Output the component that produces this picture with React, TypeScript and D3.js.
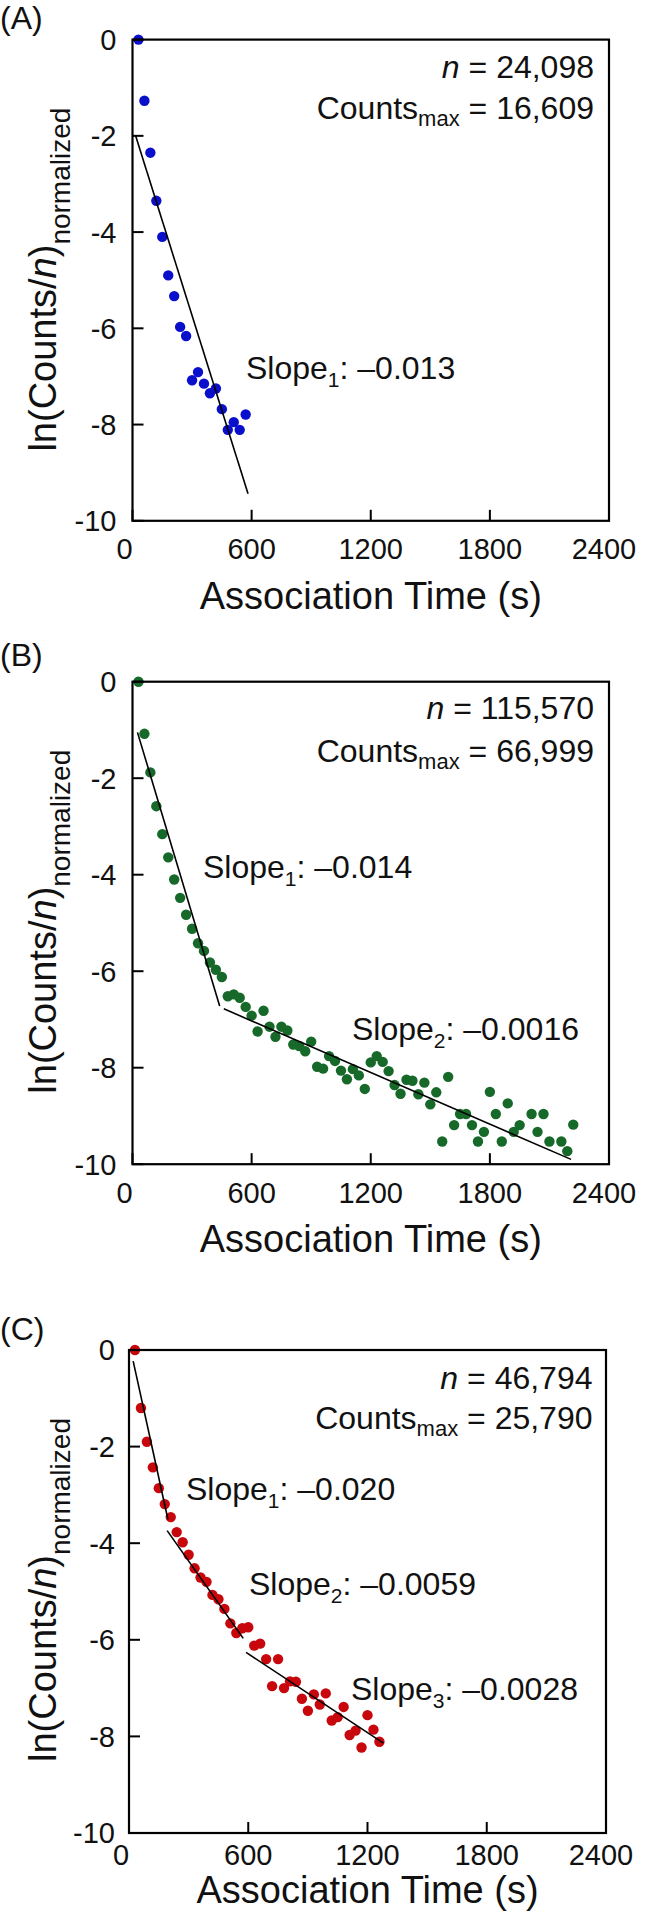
import React from 'react';
import * as d3 from 'd3';

// ---------- DATA ----------
const timeA = [30, 60, 90, 120, 150, 180, 210, 240, 270, 300, 330, 360, 390, 420, 450, 480, 510, 540, 570];
const lnA = [0, -1.27, -2.35, -3.35, -4.1, -4.9, -5.33, -5.97, -6.16, -7.08, -6.91, -7.15, -7.35, -7.25, -7.68, -8.11, -7.95, -8.11, -7.79];

const timeB = [30, 60, 90, 120, 150, 180, 210, 240, 270, 300, 330, 360, 390, 420, 450, 480, 510, 540, 570, 600,
  630, 660, 690, 720, 750, 780, 810, 840, 870, 900, 930, 960, 990, 1020, 1050, 1080, 1110, 1140, 1170, 1200,
  1230, 1260, 1290, 1320, 1350, 1380, 1410, 1440, 1470, 1500, 1530, 1560, 1590, 1620, 1650, 1680, 1710, 1740,
  1770, 1800, 1830, 1860, 1890, 1920, 1950, 2010, 2040, 2070, 2100, 2160, 2190, 2220];
const lnB = [0, -1.08, -1.88, -2.58, -3.16, -3.64, -4.1, -4.48, -4.83, -5.12, -5.42, -5.58, -5.82, -5.97, -6.12, -6.52, -6.48, -6.55, -6.74, -6.92,
  -7.25, -6.82, -7.15, -7.36, -7.15, -7.23, -7.52, -7.55, -7.66, -7.46, -7.98, -8.02, -7.76, -7.86, -8.06, -8.24, -8.03, -8.16, -8.44, -7.89,
  -7.76, -7.88, -8.07, -8.36, -8.54, -8.25, -8.27, -8.55, -8.31, -8.76, -8.51, -9.53, -8.19, -9.19, -8.96, -8.96, -9.19, -9.53,
  -9.33, -8.5, -8.96, -9.53, -8.74, -9.33, -9.19, -8.96, -9.33, -8.96, -9.53, -9.53, -9.73, -9.18];

const timeC = [30, 60, 90, 120, 150, 180, 210, 240, 270, 300, 330, 360, 390, 420, 450, 480, 510, 540, 570, 600,
  630, 660, 690, 720, 750, 780, 810, 840, 870, 900, 930, 960, 990, 1020, 1050, 1080, 1110, 1140, 1170, 1200, 1230, 1260];
const lnC = [0, -1.2, -1.9, -2.43, -2.86, -3.19, -3.46, -3.77, -3.98, -4.24, -4.52, -4.71, -4.8, -5.07, -5.16, -5.36, -5.66, -5.86, -5.76, -5.74,
  -6.12, -6.08, -6.4, -6.96, -6.4, -7.0, -6.86, -6.87, -7.22, -7.47, -7.13, -7.34, -7.11, -7.67, -7.6, -7.39, -7.97, -7.88, -8.23, -7.56, -7.86, -8.11];

// fitted segments: [t0, y0, t1, y1]
const fitA = [[15, -1.99, 582, -9.44]];
const fitB = [[25, -1.05, 439, -6.72], [460, -6.78, 2209, -9.9]];
const fitC = [[21, -0.23, 196, -3.51], [192, -3.74, 575, -5.97], [589, -6.26, 1280, -8.14]];

const xTicks = [0, 600, 1200, 1800, 2400];
const yTicks = [0, -2, -4, -6, -8, -10];

const panelLetters = ['(A)', '(B)', '(C)'];
const nValues = ['24,098', '115,570', '46,794'];
const countsMaxValues = ['16,609', '66,999', '25,790'];
const slopeSubs = [['1'], ['1', '2'], ['1', '2', '3']];
const slopeValues = [['–0.013'], ['–0.014', '–0.0016'], ['–0.020', '–0.0059', '–0.0028']];

// ---------- LAYOUT ----------
const FONT = '"Liberation Sans", Arial, Helvetica, sans-serif';
const colors = ['#0a0fcc', '#17692a', '#c8070c'];
const panels = [
  { time: timeA, ln: lnA, fit: fitA, left: 132.5, top: 39.6, w: 476.5, h: 481.2, letterY: 29, titleDy: 88, tickDy: 38.5, tickLabelGap: 16,
    slopePos: [[113.5, 339.4]], nY: 38.5, cY: 79.5, right: 461.5 },
  { time: timeB, ln: lnB, fit: fitB, left: 132.5, top: 681.7, w: 476.5, h: 482.5, letterY: 666, titleDy: 88, tickDy: 38.5, tickLabelGap: 16,
    slopePos: [[70.5, 195.8], [219.5, 358.3]], nY: 37.5, cY: 80, right: 461.5 },
  { time: timeC, ln: lnC, fit: fitC, left: 129, top: 1350, w: 477, h: 483, letterY: 1340, titleDy: 70, tickDy: 32, tickLabelGap: 14,
    slopePos: [[57, 149.6], [120, 245], [222, 350]], nY: 39, cY: 79, right: 463.5 },
];

function Panel({ p, i }: { p: any; i: number }) {
  const x = d3.scaleLinear().domain([0, 2400]).range([p.left, p.left + p.w]);
  const y = d3.scaleLinear().domain([0, -10]).range([p.top, p.top + p.h]);
  const bottom = p.top + p.h;
  const tickLen = 11;
  const line = d3.line<[number, number]>().x(d => x(d[0])).y(d => y(d[1]));
  return (
    <g fontFamily={FONT} fill="#111">
      <text x={0} y={p.letterY} fontSize={32}>{panelLetters[i]}</text>
      {/* points */}
      {p.time.map((t: number, k: number) => (
        <circle key={k} cx={x(t)} cy={y(p.ln[k])} r={5.2} fill={colors[i]} />
      ))}
      {/* fits */}
      {p.fit.map((s: number[], k: number) => (
        <path key={k} d={line([[s[0], s[1]], [s[2], s[3]]]) || ''} stroke="#000" strokeWidth={1.6} fill="none" />
      ))}
      {/* frame */}
      <rect x={p.left} y={p.top} width={p.w} height={p.h} fill="none" stroke="#000" strokeWidth={2.2} />
      {/* y ticks */}
      {yTicks.map(v => (
        <g key={v}>
          <line x1={p.left} x2={p.left + tickLen} y1={y(v)} y2={y(v)} stroke="#000" strokeWidth={2} />
          <text x={p.left - p.tickLabelGap} y={y(v)} dy="0.36em" textAnchor="end" fontSize={29}>{v === 0 ? '0' : '-' + Math.abs(v)}</text>
        </g>
      ))}
      {/* x ticks */}
      {xTicks.map((v, k) => (
        <g key={v}>
          <line x1={x(v)} x2={x(v)} y1={bottom} y2={bottom - tickLen} stroke="#000" strokeWidth={2} />
          <text x={x(v) + (k === 0 ? -8 : k === xTicks.length - 1 ? -5 : 0)} y={bottom + p.tickDy} textAnchor="middle" fontSize={29}>{v}</text>
        </g>
      ))}
      {/* axis titles */}
      <text x={p.left + p.w / 2} y={bottom + p.titleDy} textAnchor="middle" fontSize={38}>Association Time (s)</text>
      <text transform={`translate(56,${p.top + 412}) rotate(-90)`} textAnchor="start" fontSize={38}>
        ln(Counts/<tspan fontStyle="italic">n</tspan>)<tspan fontSize={28} dy={14}>normalized</tspan>
      </text>
      {/* n and counts */}
      <text x={p.left + p.right} y={p.top + p.nY} textAnchor="end" fontSize={32}>
        <tspan fontStyle="italic">n</tspan> = {nValues[i]}
      </text>
      <text x={p.left + p.right} y={p.top + p.cY} textAnchor="end" fontSize={32}>
        Counts<tspan fontSize={22} dy={7}>max</tspan><tspan dy={-7}> = {countsMaxValues[i]}</tspan>
      </text>
      {/* slopes */}
      {slopeSubs[i].map((s, k) => (
        <text key={k} x={p.left + p.slopePos[k][0]} y={p.top + p.slopePos[k][1]} fontSize={32}>
          Slope<tspan fontSize={21} dy={8}>{s}</tspan><tspan dy={-8}>: {slopeValues[i][k]}</tspan>
        </text>
      ))}
    </g>
  );
}

export default function App() {
  return (
    <svg width={650} height={1913} style={{ position: 'absolute', left: 0, top: 0, background: '#fff' }}>
      <rect width={650} height={1913} fill="#fff" />
      {panels.map((p, i) => <Panel key={i} p={p} i={i} />)}
    </svg>
  );
}
